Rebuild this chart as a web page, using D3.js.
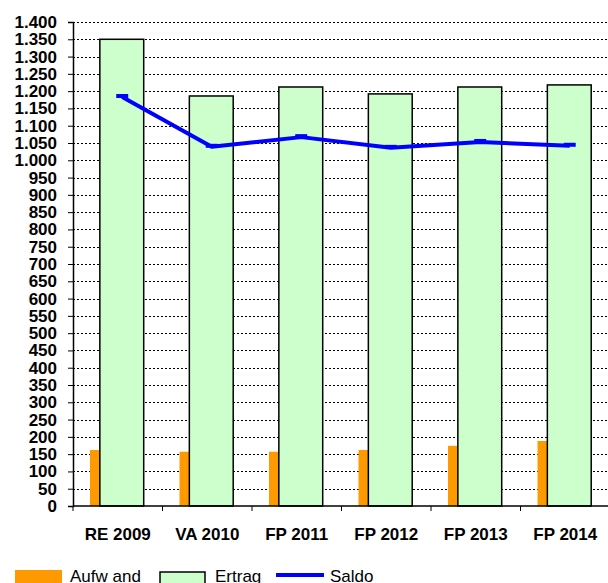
<!DOCTYPE html>
<html>
<head>
<meta charset="utf-8">
<script src="https://cdn.jsdelivr.net/npm/d3@7"></script>
<style>
  body { margin: 0; background: #fff; }
  svg { display: block; font-family: "Liberation Sans", Arial, sans-serif; }
</style>
</head>
<body>
<svg id="chart" width="608" height="583"></svg>
<script>
// values
const years = ["RE 2009", "VA 2010", "FP 2011", "FP 2012", "FP 2013", "FP 2014"];
const aufwand = [162, 157, 157, 162, 174, 188];
const ertrag = [1350, 1186, 1212, 1192, 1212, 1218];
const saldo = [1183, 1039, 1067, 1036, 1053, 1042];
const yTicks = d3.range(0, 1401, 50);

const svg = d3.select("#chart");

const plotLeft = 73, plotRight = 610, plotTop = 22, plotBottom = 506;

const x = d3.scaleBand()
    .domain(years)
    .range([plotLeft, plotRight])
    .padding(0);

const y = d3.scaleLinear()
    .domain([0, 1400])
    .range([plotBottom, plotTop]);

// german number format 1.400
const de = d3.formatLocale({ decimal: ",", thousands: ".", grouping: [3], currency: ["", " €"] });
const fmt = de.format(",d");

const bw = x.bandwidth();

// gridlines
svg.append("g")
    .selectAll("line")
    .data(yTicks.filter(d => d > 0))
    .join("line")
    .attr("x1", plotLeft)
    .attr("x2", 608)
    .attr("y1", d => Math.round(y(d)) + 0.5)
    .attr("y2", d => Math.round(y(d)) + 0.5)
    .attr("stroke", "#000")
    .attr("stroke-width", 1)
    .attr("stroke-dasharray", "2,2");

// Aufwand bars
svg.append("g")
    .selectAll("rect")
    .data(aufwand)
    .join("rect")
    .attr("x", (d, i) => x(years[i]) + bw * 0.19)
    .attr("width", bw * 0.11)
    .attr("y", d => y(d))
    .attr("height", d => plotBottom - y(d))
    .attr("fill", "#FF9900");

// Ertrag bars
svg.append("g")
    .selectAll("rect")
    .data(ertrag)
    .join("rect")
    .attr("x", (d, i) => x(years[i]) + bw * 0.30)
    .attr("width", bw * 0.49)
    .attr("y", d => y(d))
    .attr("height", d => plotBottom - y(d))
    .attr("fill", "#CCFFCC")
    .attr("stroke", "#000")
    .attr("stroke-width", 1.5);

// Saldo line
const lx = (d, i) => x(years[i]) + bw * 0.55;
const line = d3.line()
    .x(lx)
    .y(d => y(d));

svg.append("path")
    .datum(saldo)
    .attr("d", line)
    .attr("fill", "none")
    .attr("stroke", "#0000FF")
    .attr("stroke-width", 4)
    .attr("stroke-linejoin", "round");

// dash markers
svg.append("g")
    .selectAll("line")
    .data(saldo)
    .join("line")
    .attr("x1", (d, i) => lx(d, i) - 6)
    .attr("x2", (d, i) => lx(d, i) + 6)
    .attr("y1", d => y(d) - 1)
    .attr("y2", d => y(d) - 1)
    .attr("stroke", "#0000FF")
    .attr("stroke-width", 4);

// y axis
const yAxis = d3.axisLeft(y)
    .tickValues(yTicks)
    .tickFormat(fmt)
    .tickSize(5)
    .tickPadding(11);

const gy = svg.append("g")
    .attr("transform", `translate(${plotLeft},0)`)
    .call(yAxis);
gy.select(".domain").attr("stroke", "#000").attr("stroke-width", 1.5);
gy.selectAll(".tick line").attr("stroke", "#000");
gy.selectAll("text")
    .attr("font-family", "Liberation Sans, Arial, sans-serif")
    .attr("font-size", 17)
    .attr("font-weight", "bold")
    .attr("fill", "#000");

// x axis
const xAxis = d3.axisBottom(x)
    .tickSize(0)
    .tickPadding(0);

const gx = svg.append("g")
    .attr("transform", `translate(0,${plotBottom})`)
    .call(xAxis);
gx.select(".domain").attr("d", `M${plotLeft},0H608`).attr("stroke", "#000").attr("stroke-width", 1.5);
gx.selectAll("text")
    .attr("dy", 0)
    .attr("y", 34)
    .attr("font-family", "Liberation Sans, Arial, sans-serif")
    .attr("font-size", 17)
    .attr("font-weight", "bold")
    .attr("fill", "#000");

// category separator ticks
svg.append("g")
    .selectAll("line")
    .data(years)
    .join("line")
    .attr("x1", d => x(d))
    .attr("x2", d => x(d))
    .attr("y1", plotBottom)
    .attr("y2", plotBottom + 5)
    .attr("stroke", "#000");

// legend
const lg = svg.append("g").attr("font-size", 17).attr("fill", "#000");
lg.append("rect").attr("x", 15).attr("y", 570).attr("width", 47).attr("height", 14).attr("fill", "#FF9900");
lg.append("text").attr("x", 70).attr("y", 582).text("Aufw and");
lg.append("rect").attr("x", 160).attr("y", 572).attr("width", 45).attr("height", 14)
    .attr("fill", "#CCFFCC").attr("stroke", "#000").attr("stroke-width", 1.5);
lg.append("text").attr("x", 215).attr("y", 582).text("Ertrag");
lg.append("line").attr("x1", 276).attr("x2", 324).attr("y1", 575).attr("y2", 575)
    .attr("stroke", "#0000FF").attr("stroke-width", 4);
lg.append("text").attr("x", 330).attr("y", 582).text("Saldo");
</script>
</body>
</html>
